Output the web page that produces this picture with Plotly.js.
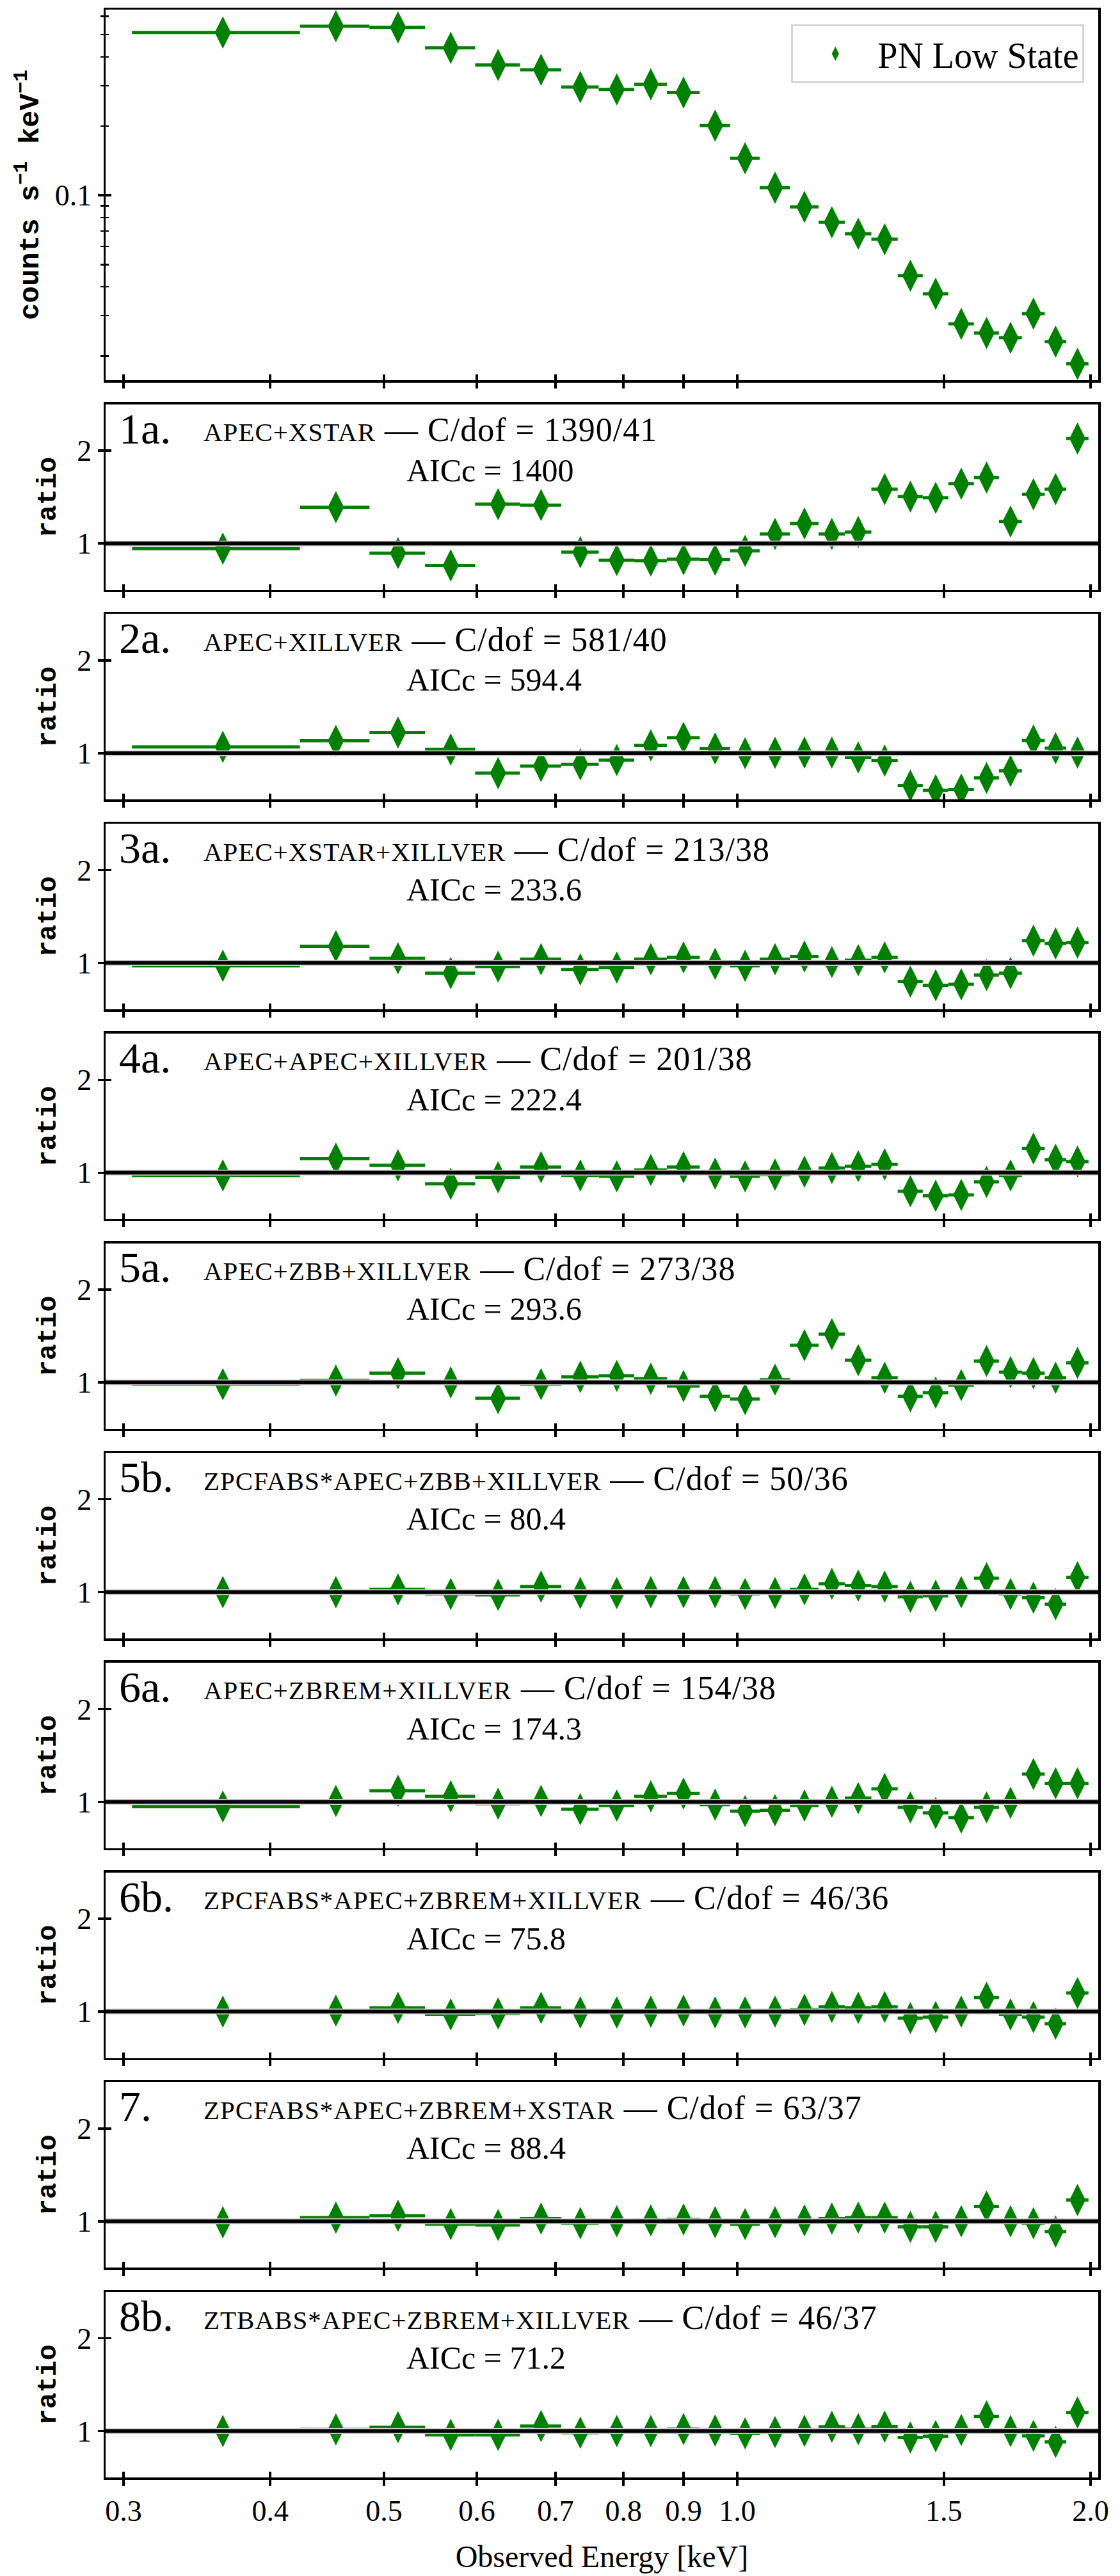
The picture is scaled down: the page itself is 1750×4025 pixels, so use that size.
<!DOCTYPE html>
<html><head><meta charset="utf-8">
<script src="https://cdn.plot.ly/plotly-3.0.1.min.js"></script>
<style>html,body{margin:0;padding:0;background:#fff}</style>
</head><body><div id="chart" style="width:1750px;height:4025px"></div>
<script>
// ---------- data ----------
const energy = [0.3645, 0.455, 0.514, 0.570, 0.6255, 0.6805, 0.735, 0.7895, 0.844, 0.900, 0.9575, 1.0155, 1.077, 1.141, 1.204, 1.268, 1.3355, 1.4045, 1.476, 1.552, 1.631, 1.7095, 1.788, 1.8675, 1.9495];
const energyErr = [0.0595, 0.031, 0.028, 0.028, 0.0275, 0.0275, 0.027, 0.0275, 0.027, 0.029, 0.0285, 0.0295, 0.032, 0.032, 0.031, 0.033, 0.0345, 0.0345, 0.037, 0.039, 0.040, 0.0385, 0.040, 0.0395, 0.0425];
const counts = [0.511, 0.544, 0.538, 0.438, 0.369, 0.352, 0.296, 0.289, 0.304, 0.280, 0.201, 0.145, 0.108, 0.0891, 0.0764, 0.0681, 0.0644, 0.0447, 0.0373, 0.0276, 0.0252, 0.0240, 0.0306, 0.0231, 0.0185];

const ratio1a = [0.945, 1.391, 0.897, 0.763, 1.423, 1.414, 0.906, 0.821, 0.816, 0.830, 0.825, 0.920, 1.103, 1.216, 1.103, 1.124, 1.586, 1.506, 1.492, 1.644, 1.710, 1.237, 1.531, 1.586, 2.131];
const ratio2a = [1.069, 1.133, 1.223, 1.041, 0.786, 0.862, 0.880, 0.926, 1.085, 1.166, 1.051, 1.000, 1.005, 1.007, 1.007, 0.954, 0.920, 0.651, 0.600, 0.609, 0.733, 0.809, 1.138, 1.055, 1.007];
const ratio3a = [0.97, 1.18, 1.05, 0.89, 0.96, 1.04, 0.93, 0.95, 1.04, 1.06, 0.99, 0.97, 1.04, 1.07, 1.01, 1.03, 1.06, 0.80, 0.76, 0.77, 0.87, 0.89, 1.24, 1.21, 1.22];
const ratio4a = [0.97, 1.15, 1.08, 0.88, 0.95, 1.06, 0.97, 0.96, 1.03, 1.06, 0.99, 0.96, 0.98, 1.01, 1.05, 1.07, 1.09, 0.80, 0.75, 0.76, 0.90, 0.97, 1.26, 1.14, 1.12];
const ratio5a = [0.98, 1.02, 1.10, 1.00, 0.83, 0.98, 1.06, 1.07, 1.04, 0.96, 0.85, 0.82, 1.03, 1.40, 1.52, 1.24, 1.05, 0.85, 0.89, 0.97, 1.23, 1.11, 1.10, 1.05, 1.21];
const ratio5b = [1.00, 1.00, 1.03, 0.98, 0.97, 1.06, 0.99, 0.99, 1.00, 1.00, 1.00, 0.98, 0.99, 1.03, 1.09, 1.07, 1.06, 0.95, 0.96, 1.00, 1.15, 0.98, 0.94, 0.87, 1.16];
const ratio6a = [0.95, 1.01, 1.12, 1.06, 0.98, 1.01, 0.92, 0.96, 1.06, 1.09, 0.97, 0.90, 0.91, 0.96, 1.00, 1.04, 1.14, 0.94, 0.88, 0.83, 0.94, 0.99, 1.30, 1.20, 1.20];
const ratio6b = [1.00, 1.01, 1.04, 0.97, 0.98, 1.04, 0.99, 0.99, 1.00, 1.01, 0.99, 0.99, 1.00, 1.02, 1.05, 1.04, 1.05, 0.93, 0.94, 1.00, 1.15, 0.97, 0.94, 0.87, 1.20];
const ratio7 = [0.99, 1.04, 1.06, 0.97, 0.96, 1.03, 0.98, 1.00, 1.01, 1.02, 0.99, 0.97, 0.99, 1.01, 1.03, 1.04, 1.04, 0.94, 0.94, 1.00, 1.16, 1.00, 0.98, 0.89, 1.23];
const ratio8b = [1.000, 1.018, 1.041, 0.959, 0.959, 1.053, 0.982, 1.000, 1.000, 1.021, 1.005, 0.975, 0.989, 1.002, 1.046, 1.021, 1.048, 0.931, 0.945, 1.011, 1.159, 1.000, 0.949, 0.883, 1.200];

const panelLabels = ['1a.', '2a.', '3a.', '4a.', '5a.', '5b.', '6a.', '6b.', '7.', '8b.'];
const modelNames = ['apec+xstar', 'apec+xillver', 'apec+xstar+xillver', 'apec+apec+xillver', 'apec+zbb+xillver',
  'zpcfabs*apec+zbb+xillver', 'apec+zbrem+xillver', 'zpcfabs*apec+zbrem+xillver', 'zpcfabs*apec+zbrem+xstar', 'ztbabs*apec+zbrem+xillver'];
const cStat = [1390, 581, 213, 201, 273, 50, 154, 46, 63, 46];
const dof = [41, 40, 38, 38, 38, 36, 38, 36, 37, 37];
const aicc = ['1400', '594.4', '233.6', '222.4', '293.6', '80.4', '174.3', '75.8', '88.4', '71.2'];
const ratios = [ratio1a, ratio2a, ratio3a, ratio4a, ratio5a, ratio5b, ratio6a, ratio6b, ratio7, ratio8b];

const xTickVals = [0.3, 0.4, 0.5, 0.6, 0.7, 0.8, 0.9, 1.0, 1.5, 2.0];
const xTickText = ['0.3', '0.4', '0.5', '0.6', '0.7', '0.8', '0.9', '1.0', '1.5', '2.0'];
const countsTickVals = [0.1];
const countsTickText = ['0.1'];
const countsMinorVals = [0.02, 0.03, 0.04, 0.05, 0.06, 0.07, 0.08, 0.09, 0.2, 0.3, 0.4, 0.5, 0.6];
const ratioTickVals = [1, 2];
const ratioTickText = ['1', '2'];
const ratioRef = 1;

// ---------- styling / geometry ----------
const GREEN = '#008000';
const SERIF = 'Liberation Serif, Times New Roman, serif';
const MONO = 'Liberation Mono, DejaVu Sans Mono, monospace';
const plotTop = 15, plotBottom = 3872, ph = plotBottom - plotTop;
const xRange = [-0.5382, 0.3076];
const countsRange = [-1.804, -0.192];
const ratioRange = [0.5, 2.5];
const LW = 3.5, TL = 9;

function dom(topPx, botPx) { return [(plotBottom - botPx) / ph, (plotBottom - topPx) / ph]; }

const nPanels = 1 + ratios.length;
const layout = {
  width: 1750, height: 4025,
  margin: {l: 165, r: 34, t: plotTop, b: 4025 - plotBottom},
  paper_bgcolor: '#fff', plot_bgcolor: '#fff',
  font: {family: SERIF, color: '#000', size: 44},
  showlegend: true,
  legend: {x: 0.986, xanchor: 'right', y: (plotBottom - 38) / ph, yanchor: 'top',
    bordercolor: '#d6d6d6', borderwidth: 3, bgcolor: '#fff',
    font: {family: SERIF, size: 56}, itemwidth: 122},
  shapes: [], annotations: []
};
const data = [];

for (let i = 0; i < nPanels; i++) {
  const n = i + 1, o = n + nPanels;
  let top, bot;
  if (i === 0) { top = 15; bot = 594; } else { top = 631.7 + 327.7 * (i - 1); bot = top + 290; }
  const isLast = i === nPanels - 1;
  const xa = {
    type: 'log', range: xRange, domain: [0, 1], anchor: 'y' + n,
    tickmode: 'array', tickvals: xTickVals, ticktext: xTickText,
    showticklabels: isLast, ticks: 'outside', ticklen: TL, tickwidth: LW, tickcolor: '#000',
    showline: true, mirror: true, linewidth: LW, linecolor: '#000',
    showgrid: false, zeroline: false, tickfont: {size: 46, family: SERIF}
  };
  if (isLast) xa.title = {text: 'Observed Energy [keV]', font: {size: 48, family: SERIF}, standoff: 30};
  const xo = {
    type: 'log', range: xRange, overlaying: 'x' + n, anchor: 'y' + n, side: 'bottom',
    tickmode: 'array', tickvals: xTickVals, showticklabels: false,
    ticks: 'inside', ticklen: TL, tickwidth: LW, tickcolor: '#000',
    showline: false, showgrid: false, zeroline: false
  };
  let ya, yo;
  if (i === 0) {
    ya = {
      type: 'log', range: countsRange, domain: dom(top, bot), anchor: 'x' + n,
      tickmode: 'array', tickvals: countsTickVals, ticktext: countsTickText,
      ticks: 'outside', ticklen: TL, tickwidth: LW, tickcolor: '#000',
      minor: {tickmode: 'array', tickvals: countsMinorVals, ticks: 'outside', ticklen: 5, tickwidth: 2.5, tickcolor: '#000', showgrid: false},
      showline: true, mirror: true, linewidth: LW, linecolor: '#000',
      showgrid: false, zeroline: false, tickfont: {size: 46, family: SERIF},
      title: {text: 'counts s<sup>−1</sup> keV<sup>−1</sup>', font: {family: MONO, size: 44, weight: 'bold'}, standoff: 12}
    };
    yo = {
      type: 'log', range: countsRange, overlaying: 'y' + n, anchor: 'x' + n, side: 'left',
      tickmode: 'array', tickvals: countsTickVals, showticklabels: false,
      ticks: 'inside', ticklen: TL, tickwidth: LW, tickcolor: '#000',
      minor: {tickmode: 'array', tickvals: countsMinorVals, ticks: 'inside', ticklen: 5, tickwidth: 2.5, tickcolor: '#000', showgrid: false},
      showline: false, showgrid: false, zeroline: false
    };
  } else {
    ya = {
      range: ratioRange, domain: dom(top, bot), anchor: 'x' + n,
      tickmode: 'array', tickvals: ratioTickVals, ticktext: ratioTickText,
      ticks: 'outside', ticklen: TL, tickwidth: LW, tickcolor: '#000',
      showline: true, mirror: true, linewidth: LW, linecolor: '#000',
      showgrid: false, zeroline: false, tickfont: {size: 46, family: SERIF},
      title: {text: 'ratio', font: {family: MONO, size: 42, weight: 'bold'}, standoff: 20}
    };
    yo = {
      range: ratioRange, overlaying: 'y' + n, anchor: 'x' + n, side: 'left',
      tickmode: 'array', tickvals: ratioTickVals, showticklabels: false,
      ticks: 'inside', ticklen: TL, tickwidth: LW, tickcolor: '#000',
      showline: false, showgrid: false, zeroline: false
    };
  }
  layout['xaxis' + n] = xa; layout['yaxis' + n] = ya;
  layout['xaxis' + o] = xo; layout['yaxis' + o] = yo;

  data.push({type: 'scatter', x: [], y: [], xaxis: 'x' + o, yaxis: 'y' + n, showlegend: false, hoverinfo: 'skip'});
  data.push({type: 'scatter', x: [], y: [], xaxis: 'x' + n, yaxis: 'y' + o, showlegend: false, hoverinfo: 'skip'});

  const yvals = i === 0 ? counts : ratios[i - 1];
  data.push({
    type: 'scatter', mode: 'markers', x: energy, y: yvals,
    xaxis: 'x' + n, yaxis: 'y' + n,
    name: 'PN Low State', showlegend: i === 0,
    error_x: {type: 'data', array: energyErr, symmetric: true, width: 0, thickness: 5, color: GREEN},
    marker: {symbol: 'diamond-tall', size: 36, color: GREEN, line: {width: 0}}
  });

  if (i > 0) {
    const k = i - 1;
    layout.shapes.push({type: 'line', layer: 'above', xref: 'x' + n + ' domain', x0: 0, x1: 1,
      yref: 'y' + n, y0: ratioRef, y1: ratioRef, line: {color: '#d4d4d4', width: 9}});
    layout.shapes.push({type: 'line', layer: 'above', xref: 'x' + n + ' domain', x0: 0, x1: 1,
      yref: 'y' + n, y0: ratioRef, y1: ratioRef, line: {color: '#000', width: 6}});
    layout.annotations.push({xref: 'x' + n + ' domain', yref: 'y' + n + ' domain', x: 0.012, y: 0.869,
      xanchor: 'left', yanchor: 'middle', showarrow: false, text: panelLabels[k], font: {size: 68, family: SERIF}});
    layout.annotations.push({xref: 'x' + n + ' domain', yref: 'y' + n + ' domain', x: 0.0975, y: 0.862,
      xanchor: 'left', yanchor: 'middle', showarrow: false,
      text: '<span style="letter-spacing:1px"><span style="font-size:41px">' + modelNames[k].toUpperCase() + '</span> — C/dof = ' + cStat[k] + '/' + dof[k] + '</span>',
      font: {size: 52, family: SERIF}});
    layout.annotations.push({xref: 'x' + n + ' domain', yref: 'y' + n + ' domain', x: 0.302, y: 0.645,
      xanchor: 'left', yanchor: 'middle', showarrow: false, text: 'AICc = ' + aicc[k], font: {size: 50, family: SERIF}});
  }
}

Plotly.newPlot('chart', data, layout, {staticPlot: true, displayModeBar: false});
</script></body></html>
